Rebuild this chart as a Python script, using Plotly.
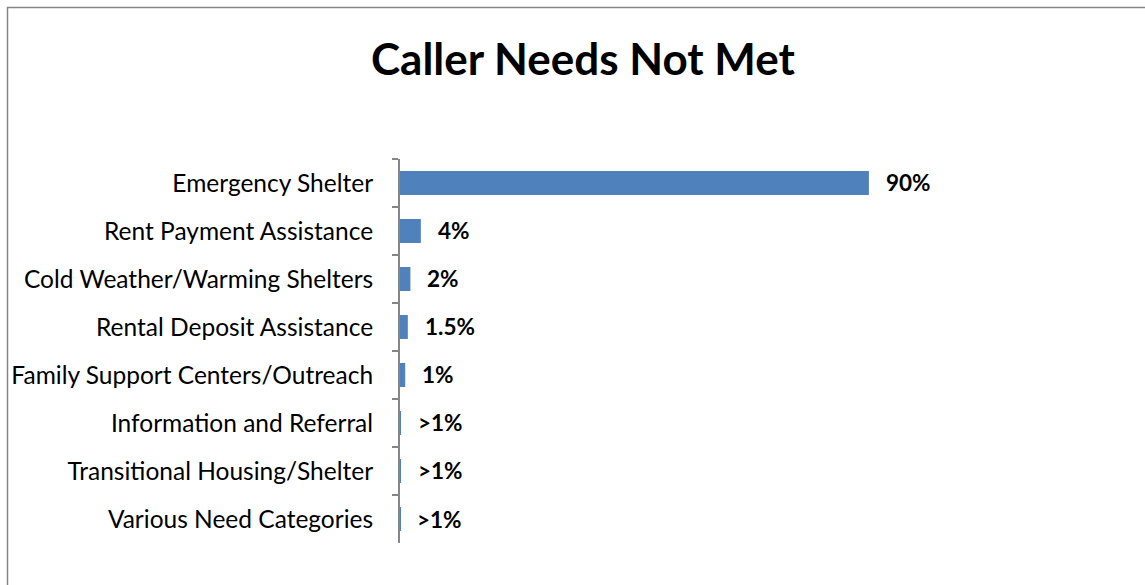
import plotly.graph_objects as go

# Categories, values and the value labels shown next to each bar
categories = [
    "Emergency Shelter",
    "Rent Payment Assistance",
    "Cold Weather/Warming Shelters",
    "Rental Deposit Assistance",
    "Family Support Centers/Outreach",
    "Information and Referral",
    "Transitional Housing/Shelter",
    "Various Need Categories",
]
percent_values = [90, 4, 2, 1.5, 1, 0.15, 0.15, 0.05]
value_labels = ["90%", "4%", "2%", "1.5%", "1%", ">1%", ">1%", ">1%"]

W, H = 1145, 585
FONT = "Lato"
BAR_COLOR = "#4F81BD"
AXIS_GRAY = "#868686"

# Plot area (pixels)
px_left, px_right = 400, 921
px_top, px_bottom = 159, 543

fig = go.Figure(
    go.Bar(
        x=percent_values,
        y=categories,
        orientation="h",
        marker=dict(color=BAR_COLOR, line=dict(width=0)),
        width=0.5,
        hoverinfo="skip",
    )
)

for cat, val, lab in zip(categories, percent_values, value_labels):
    fig.add_annotation(
        x=val, y=cat, xref="x", yref="y",
        text=f"<b>{lab}</b>", showarrow=False,
        xanchor="left", yanchor="middle", xshift=15,
        font=dict(family=FONT, size=22.5, color="#000000"),
    )

fig.add_annotation(
    x=583 / W, y=1 - 58 / H, xref="paper", yref="paper",
    text="<b>Caller Needs Not Met</b>", showarrow=False,
    xanchor="center", yanchor="middle",
    font=dict(family=FONT, size=44, color="#000000"),
)

# Chart frame
fig.add_shape(
    type="rect", xref="paper", yref="paper",
    x0=7.5 / W, x1=1.02, y0=-0.02, y1=1 - 7.5 / H,
    line=dict(color=AXIS_GRAY, width=1.5), fillcolor="rgba(0,0,0,0)",
)

fig.update_layout(
    width=W, height=H,
    margin=dict(l=0, r=0, t=0, b=0),
    paper_bgcolor="white", plot_bgcolor="white",
    showlegend=False,
    font=dict(family=FONT, size=20, color="#000000"),
    xaxis=dict(
        domain=[px_left / W, px_right / W],
        range=[0, 100],
        visible=False,
        fixedrange=True,
    ),
    yaxis=dict(
        domain=[1 - px_bottom / H, 1 - px_top / H],
        autorange="reversed",
        type="category",
        showline=True, linecolor=AXIS_GRAY, linewidth=2,
        ticks="outside", ticklen=6, tickcolor=AXIS_GRAY, tickwidth=1.5,
        tickson="boundaries",
        showgrid=False, zeroline=False,
        ticklabelstandoff=20,
        tickfont=dict(family=FONT, size=24.5, color="#000000"),
        automargin=False,
        fixedrange=True,
    ),
)

fig.write_html("out.html")
